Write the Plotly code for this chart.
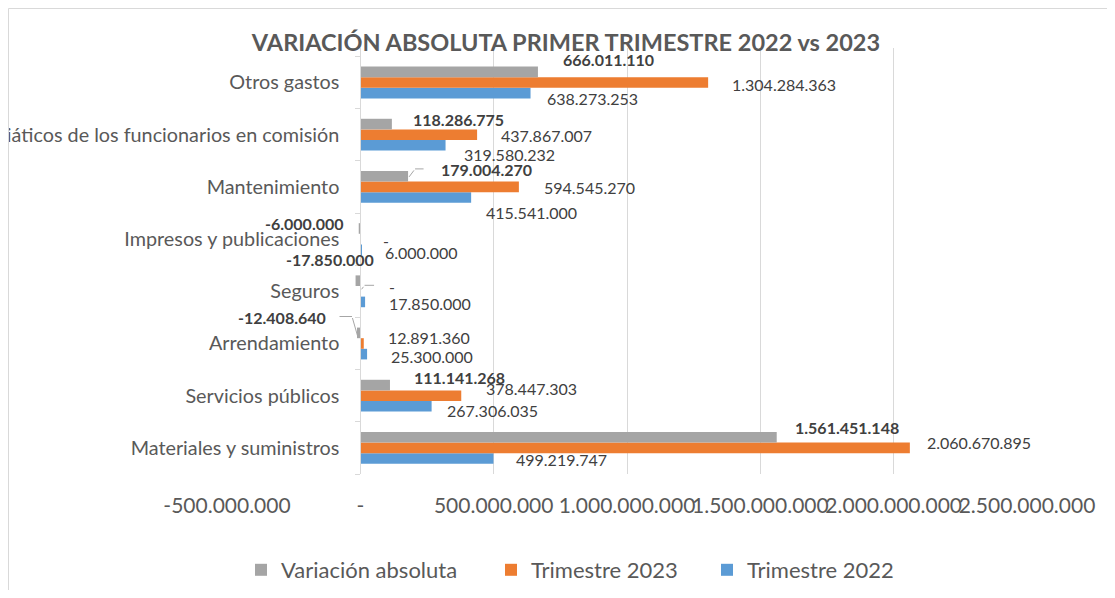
import plotly.graph_objects as go

# ---------------- data ----------------
categories = [
    "Materiales y suministros",
    "Servicios públicos",
    "Arrendamiento",
    "Seguros",
    "Impresos y publicaciones",
    "Mantenimiento",
    "Viáticos de los funcionarios en comisión",
    "Otros gastos",
]
trimestre_2022 = [499219747, 267306035, 25300000, 17850000, 6000000, 415541000, 319580232, 638273253]
trimestre_2023 = [2060670895, 378447303, 12891360, 0, 0, 594545270, 437867007, 1304284363]
variacion_absoluta = [1561451148, 111141268, -12408640, -17850000, -6000000, 179004270, 118286775, 666011110]

x_tickvals = [-500000000, 0, 500000000, 1000000000, 1500000000, 2000000000, 2500000000]
x_ticktext = ["-500.000.000", "-", "500.000.000", "1.000.000.000",
              "1.500.000.000", "2.000.000.000", "2.500.000.000"]

series_names = ["Trimestre 2022", "Trimestre 2023", "Variación absoluta"]

# ---------------- styles ----------------
colors = {"Trimestre 2022": "#5B9BD5", "Trimestre 2023": "#ED7D31", "Variación absoluta": "#A5A5A5"}
FONT = "Lato"
AXIS_COLOR = "#595959"
LABEL_COLOR = "#404040"
GRID = "#D9D9D9"

# page has an 8px body margin: work in page pixels, convert to figure pixels
OFF = 8
W, H = 1115 - 2 * OFF, 598 - 2 * OFF
L, R, T, B = 227 - OFF, 1027 - OFF, 48 - OFF, 474 - OFF
pw, ph = R - L, B - T

# label placement (anchor, x pixel shift, y pixel shift) per category, per series
label_pos_2022 = [("left", 21, -12), ("left", 13, -15), ("left", 22, -13), ("left", 22, -12),
                  ("left", 21, -13), ("left", 13, -26), ("left", 16, -20), ("left", 14, -16)]
label_pos_2023 = [("left", 15, 5), ("left", 23, 7), ("left", 22, 6), ("left", 27, 5),
                  ("left", 21, -1), ("left", 23, -1), ("left", 22, -1), ("left", 22, -2)]
label_pos_var = [("left", 16, 20), ("left", 22, 18), ("right", -29, 26), ("right", 20, 32),
                 ("right", -13, 16), ("left", 31, 17), ("left", 19, 15), ("left", 23, 23)]

# leader lines: (category index, xshift, yshift, ax, ay) relative to the variation bar end
leader_segments = [
    (5, 1, 10, 6, -8), (5, 7, 18, 10, 0),
    (3, 6, 2, 3, -4), (3, 9, 6, 11, 0),
    (2, 1, 6, -6, -21), (2, -5, 27, -14, 0),
]

# legend text start (page px) for each series
legend_text_x = {"Variación absoluta": 281, "Trimestre 2023": 531, "Trimestre 2022": 747}
legend_ids = {"Variación absoluta": "legend", "Trimestre 2023": "legend2", "Trimestre 2022": "legend3"}


def fmt(v):
    if v == 0:
        return "-"
    return f"{v:,.0f}".replace(",", ".")


fig = go.Figure()
for name, vals in zip(series_names, [trimestre_2022, trimestre_2023, variacion_absoluta]):
    fig.add_trace(go.Bar(
        y=categories, x=vals, name=name, orientation="h",
        marker=dict(color=colors[name], line=dict(width=0)),
        legend=legend_ids[name],
    ))

annotations = []
for vals, pos, bold in [(trimestre_2022, label_pos_2022, False),
                        (trimestre_2023, label_pos_2023, False),
                        (variacion_absoluta, label_pos_var, True)]:
    for cat, v, (anc, dx, dy) in zip(categories, vals, pos):
        txt = fmt(v)
        annotations.append(dict(
            x=v, y=cat, xref="x", yref="y", text=f"<b>{txt}</b>" if bold else txt,
            showarrow=False, xanchor=anc, yanchor="middle", xshift=dx, yshift=dy,
            font=dict(family=FONT, size=16, color=LABEL_COLOR),
        ))

for ci, dx, dy, ax, ay in leader_segments:
    annotations.append(dict(
        x=variacion_absoluta[ci], y=categories[ci], xref="x", yref="y", text="",
        showarrow=True, arrowhead=0, arrowwidth=1, arrowcolor="#A6A6A6",
        ax=ax, ay=ay, xshift=dx, yshift=dy, standoff=0, startstandoff=0,
    ))

legend_common = dict(
    orientation="h", xref="container", yref="container", xanchor="left", yanchor="middle",
    y=1 - (570 - OFF) / H,
    font=dict(family=FONT, size=22, color=AXIS_COLOR), bgcolor="rgba(0,0,0,0)",
)
legends = {}
for name, lid in legend_ids.items():
    legends[lid] = dict(legend_common, x=(legend_text_x[name] - 40 - OFF) / W)

fig.update_layout(
    width=W, height=H,
    margin=dict(l=L, r=W - R, t=T, b=H - B, autoexpand=False),
    paper_bgcolor="white", plot_bgcolor="white",
    separators=",.",
    barmode="group", bargap=0.39, bargroupgap=0,
    font=dict(family=FONT, color=AXIS_COLOR),
    title=dict(
        text="<b>VARIACIÓN ABSOLUTA PRIMER TRIMESTRE 2022 vs 2023</b>",
        x=(566 - OFF) / W, xref="container", xanchor="center",
        y=1 - (43 - OFF) / H, yref="container", yanchor="middle",
        font=dict(family=FONT, size=23.5, color=AXIS_COLOR),
    ),
    xaxis=dict(
        range=[-500000000, 2500000000], tickvals=x_tickvals, ticktext=x_ticktext,
        tickangle=0, showgrid=True, gridcolor=GRID, gridwidth=1,
        zeroline=False, showline=False, ticks="",
        tickfont=dict(family=FONT, size=21, color=AXIS_COLOR),
        ticklabelstandoff=17, automargin=False,
    ),
    yaxis=dict(
        categoryorder="array", categoryarray=categories,
        anchor="free", position=(0 - (-500000000)) / 3000000000,
        showline=True, linecolor=GRID, linewidth=1,
        ticks="outside", ticklen=5, tickcolor=GRID, tickson="boundaries",
        showgrid=False, zeroline=False,
        tickfont=dict(family=FONT, size=19.8, color=AXIS_COLOR),
        ticklabelstandoff=17, automargin=False,
    ),
    annotations=annotations,
    shapes=[
        dict(type="line", xref="paper", yref="paper",
             x0=(0.5 - L) / pw, x1=(W - L) / pw, y0=(B - 0.5) / ph, y1=(B - 0.5) / ph,
             line=dict(color=GRID, width=1)),
        dict(type="line", xref="paper", yref="paper",
             x0=(0.5 - L) / pw, x1=(0.5 - L) / pw, y0=(B - 0.5) / ph, y1=(B - H) / ph,
             line=dict(color=GRID, width=1)),
    ],
    showlegend=True,
    **legends,
)

fig.write_html("out.html")
